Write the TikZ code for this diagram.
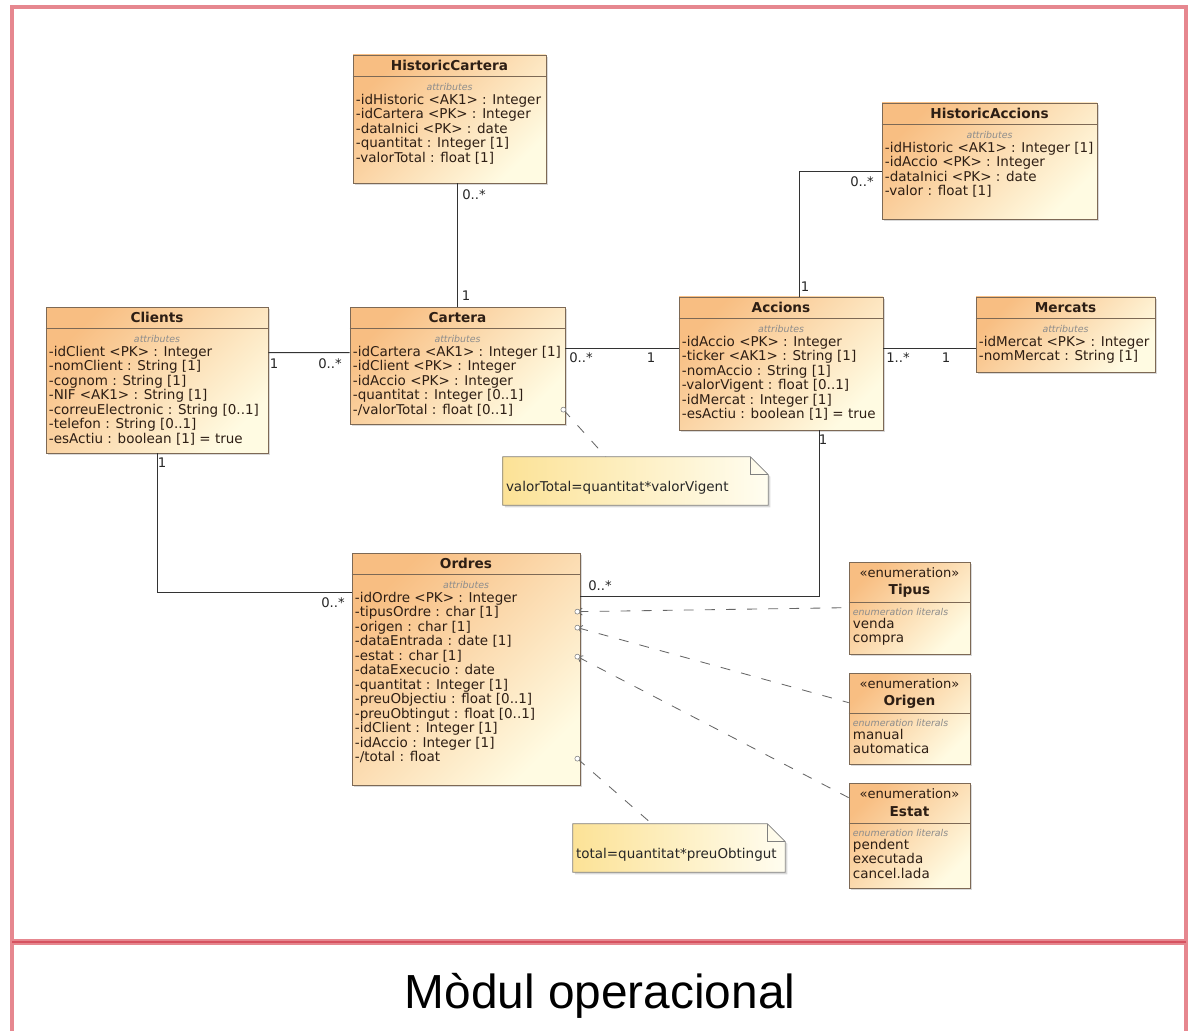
\documentclass[tikz,border=0pt]{standalone}
\usepackage{fontspec}
\setmainfont{DejaVu Sans}
\newfontfamily\captionfont{Liberation Sans}
\usetikzlibrary{calc,fit,shadows,arrows.meta}

\definecolor{umlorange}{RGB}{248,190,130}
\definecolor{umlpale}{RGB}{255,251,226}
\definecolor{umlborder}{RGB}{125,105,85}
\definecolor{umltext}{RGB}{45,30,20}
\definecolor{noteyellow}{RGB}{252,226,150}
\definecolor{notepale}{RGB}{255,253,240}
\definecolor{framepink}{RGB}{230,135,143}
\definecolor{framered}{RGB}{214,82,96}

% class box: name, x1, y1, x2, y2, title, attributes
\newcommand{\umlclass}[7]{%
  \node[classbox, fit={(#2,#3) (#4,#5)}] (#1) {};
  \draw[classline] ($(#1.north west)+(0,22)$) -- ($(#1.north east)+(0,22)$);
  \node[classname] (#1-name) at ($(#1.north)+(0,11)$) {#6};
  \node[compartment] (#1-head) at ($(#1.north)+(0,32)$) {attributes};
  \node[attrlist] (#1-attrs) at ($(#1.north west)+(3,39)$) {#7};
}

% enumeration box: name, x1, y1, x2, y2, title, literals
\newcommand{\umlenum}[7]{%
  \node[classbox, fit={(#2,#3) (#4,#5)}] (#1) {};
  \draw[classline] ($(#1.north west)+(0,41)$) -- ($(#1.north east)+(0,41)$);
  \node[stereo] (#1-stereo) at ($(#1.north)+(0,11)$) {«enumeration»};
  \node[classname] (#1-name) at ($(#1.north)+(0,29)$) {#6};
  \node[compartment, anchor=west] (#1-head) at ($(#1.north west)+(4,50)$) {enumeration literals};
  \node[attrlist] (#1-lits) at ($(#1.north west)+(4,56)$) {#7};
}

% note with folded corner: name, x1, y1, x2, y2, text
\newcommand{\umlnote}[6]{%
  \node[inner sep=0pt, fit={(#2,#3) (#4,#5)}] (#1) {};
  \path[notebox] (#1.south west) -- (#1.north west) -- ($(#1.north east)+(-18,0)$)
    -- ($(#1.north east)+(0,18)$) -- (#1.south east) -- cycle;
  \draw[noteline] ($(#1.north east)+(-18,0)$) |- ($(#1.north east)+(0,18)$);
  \node[notetext] (#1-text) at ($(#1.west)+(3,7)$) {#6};
}

\begin{document}
\begin{tikzpicture}[x=0.025cm, y=-0.025cm,
    classbox/.style={draw=umlborder, line width=0.5pt, inner sep=0pt,
      top color=umlorange, bottom color=umlpale, shading angle=45,
      drop shadow={shadow xshift=1.5pt, shadow yshift=-1.5pt, opacity=0.3}},
    classline/.style={draw=umlborder, line width=0.5pt},
    classname/.style={inner sep=0pt, text=umltext, font=\bfseries\fontsize{9.7}{11}\selectfont},
    stereo/.style={inner sep=0pt, text=umltext, font=\fontsize{9.3}{11}\selectfont},
    compartment/.style={inner sep=0pt, text=black!45, font=\itshape\fontsize{6.7}{8}\selectfont},
    attrlist/.style={anchor=north west, align=left, inner sep=0pt, text=umltext,
      font=\fontsize{9.6}{10.3}\selectfont},
    notebox/.style={draw=black!50, line width=0.5pt, left color=noteyellow, right color=notepale,
      drop shadow={shadow xshift=1.5pt, shadow yshift=-1.5pt, opacity=0.3}},
    noteline/.style={draw=black!50, line width=0.5pt},
    notetext/.style={anchor=west, inner sep=0pt, text=black!85, font=\fontsize{9.6}{11}\selectfont},
    mult/.style={inner sep=0pt, text=black!85, font=\fontsize{9.4}{11}\selectfont},
    assoc/.style={draw=black!80, line width=0.6pt},
    dashlink/.style={draw=black!60, line width=0.6pt, dash pattern=on 7pt off 8pt},
    attrmark/.style={draw=black!50, line width=0.4pt, fill=white},
    frame/.style={draw=framepink, line width=3pt},
    sepline/.style={draw=framepink, line width=4.5pt},
    sepcore/.style={draw=framered, line width=2pt},
    captiontext/.style={anchor=base, inner sep=0pt, font=\captionfont\fontsize{34}{40}\selectfont}
]
\useasboundingbox (0,0) rectangle (1192,1031);

% Frame and caption
\draw[frame] (12,1031) -- (12,7) -- (1186,7) -- (1186,1031);
\draw[sepline] (12,942) -- (1186,942);
\draw[sepcore] (12,942) -- (1186,942);
\node[captiontext] (caption) at (600,1008) {Mòdul operacional};

% Classes
\umlclass{hc}{353}{55}{546}{183}{HistoricCartera}{-idHistoric <AK1> : Integer\\-idCartera <PK> : Integer\\-dataInici <PK> : date\\-quantitat : Integer [1]\\-valorTotal : float [1]}
\umlclass{ha}{882}{103}{1097}{219}{HistoricAccions}{-idHistoric <AK1> : Integer [1]\\-idAccio <PK> : Integer\\-dataInici <PK> : date\\-valor : float [1]}
\umlclass{cli}{46}{307}{268}{453}{Clients}{-idClient <PK> : Integer\\-nomClient : String [1]\\-cognom : String [1]\\-NIF <AK1> : String [1]\\-correuElectronic : String [0..1]\\-telefon : String [0..1]\\-esActiu : boolean [1] = true}
\umlclass{cart}{350}{307}{565}{424}{Cartera}{-idCartera <AK1> : Integer [1]\\-idClient <PK> : Integer\\-idAccio <PK> : Integer\\-quantitat : Integer [0..1]\\-/valorTotal : float [0..1]}
\umlclass{acc}{679}{297}{883}{430}{Accions}{-idAccio <PK> : Integer\\-ticker <AK1> : String [1]\\-nomAccio : String [1]\\-valorVigent : float [0..1]\\-idMercat : Integer [1]\\-esActiu : boolean [1] = true}
\umlclass{mer}{976}{297}{1155}{372}{Mercats}{-idMercat <PK> : Integer\\-nomMercat : String [1]}
\umlclass{ord}{352}{553}{580}{785}{Ordres}{-idOrdre <PK> : Integer\\-tipusOrdre : char [1]\\-origen : char [1]\\-dataEntrada : date [1]\\-estat : char [1]\\-dataExecucio : date\\-quantitat : Integer [1]\\-preuObjectiu : float [0..1]\\-preuObtingut : float [0..1]\\-idClient : Integer [1]\\-idAccio : Integer [1]\\-/total : float}

% Enumerations
\umlenum{tip}{849}{562}{970}{654}{Tipus}{venda\\compra}
\umlenum{ori}{849}{673}{970}{764}{Origen}{manual\\automatica}
\umlenum{est}{849}{783}{970}{888}{Estat}{pendent\\executada\\cancel.lada}

% Notes
\umlnote{n1}{503}{457}{768}{505}{valorTotal=quantitat*valorVigent}
\umlnote{n2}{573}{824}{785}{872}{total=quantitat*preuObtingut}

% Associations
\draw[assoc] (cart.north) -- (cart.north |- hc.south);
\draw[assoc] ($(ha.west)+(0,10)$) -| ($(acc.north)+(18,0)$);
\draw[assoc] ($(cli.north east)+(0,46)$) -- ($(cart.north west)+(0,46)$);
\draw[assoc] ($(cart.north east)+(0,42)$) -- ($(acc.north west)+(0,52)$);
\draw[assoc] ($(acc.north east)+(0,52)$) -- ($(mer.north west)+(0,52)$);
\draw[assoc] (cli.south) |- ($(ord.north west)+(0,40)$);
\draw[assoc] ($(acc.south)+(38,0)$) |- ($(ord.north east)+(0,44)$);

% Multiplicities
\node[mult] (mHC) at (474,195) {0..*};
\node[mult] (mCartTop) at (466,296) {1};
\node[mult] (mHA) at (862,182) {0..*};
\node[mult] (mAccTop) at (805,287) {1};
\node[mult] (mCli) at (274,364) {1};
\node[mult] (mCartL) at (330,364) {0..*};
\node[mult] (mCartR) at (581,358) {0..*};
\node[mult] (mAccL) at (651,358) {1};
\node[mult] (mAccR) at (898,358) {1..*};
\node[mult] (mMer) at (946,358) {1};
\node[mult] (mCliBot) at (162,463) {1};
\node[mult] (mOrdL) at (333,603) {0..*};
\node[mult] (mAccBot) at (823,440) {1};
\node[mult] (mOrdR) at (600,586) {0..*};

% Attribute links
\coordinate (aTotal) at ($(cart.north east)+(-2,103)$);
\coordinate (oTipus) at ($(ord.north east)+(-3,59)$);
\coordinate (oOrigen) at ($(ord.north east)+(-3,75)$);
\coordinate (oEstat) at ($(ord.north east)+(-3,104)$);
\coordinate (oTotal) at ($(ord.north east)+(-3,206)$);
\draw[dashlink] (aTotal) -- ($(n1.north west)+(103,0)$);
\draw[dashlink, {Straight Barb[length=3pt,width=5pt]}-] (oTipus) -- ($(tip.north west)+(0,46)$);
\draw[dashlink, {Straight Barb[length=3pt,width=5pt]}-] (oOrigen) -- ($(ori.north west)+(0,30)$);
\draw[dashlink, {Straight Barb[length=3pt,width=5pt]}-] (oEstat) -- ($(est.north west)+(0,15)$);
\draw[dashlink] (oTotal) -- ($(n2.north west)+(79,0)$);
\foreach \p in {aTotal,oTipus,oOrigen,oEstat,oTotal}
  \draw[attrmark] (\p) circle (2.5);
\end{tikzpicture}
\end{document}
